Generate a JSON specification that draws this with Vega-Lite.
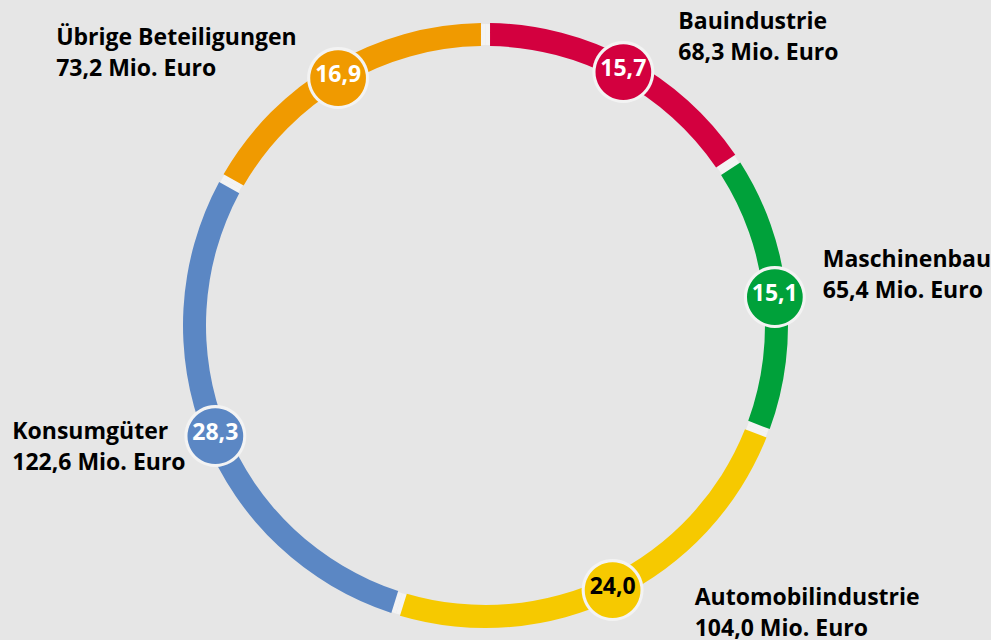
{
  "$schema": "https://vega.github.io/schema/vega-lite/v6.json",
  "width": 971,
  "height": 629,
  "autosize": {"type": "none"},
  "padding": {"left": 0, "top": 11, "right": 20, "bottom": 0},
  "background": "#e6e6e6",
  "config": {
    "view": {"stroke": null},
    "locale": {"number": {"decimal": ",", "thousands": ".", "grouping": [3], "currency": ["", " €"]}}
  },
  "data": {
    "values": [
      {"idx": 1, "name": "Bauindustrie", "share": 15.7, "label": "Bauindustrie\n68,3 Mio. Euro"},
      {"idx": 2, "name": "Maschinenbau", "share": 15.1, "label": "Maschinenbau\n65,4 Mio. Euro"},
      {"idx": 3, "name": "Automobilindustrie", "share": 24.0, "label": "Automobilindustrie\n104,0 Mio. Euro"},
      {"idx": 4, "name": "Konsumgüter", "share": 28.3, "label": "Konsumgüter\n122,6 Mio. Euro"},
      {"idx": 5, "name": "Übrige Beteiligungen", "share": 16.9, "label": "Übrige Beteiligungen\n73,2 Mio. Euro"}
    ]
  },
  "encoding": {
    "theta": {"field": "share", "type": "quantitative", "stack": true},
    "order": {"field": "idx", "type": "quantitative", "sort": "ascending"}
  },
  "layer": [
    {"mark": {"type": "arc", "outerRadius": 301.5, "innerRadius": 280.5, "fill": "#f3f3f3"}},
    {
      "mark": {"type": "arc", "outerRadius": 302.5, "innerRadius": 279.5, "padAngle": 0.022},
      "encoding": {
        "color": {
          "field": "name", "type": "nominal", "legend": null,
          "scale": {
            "domain": ["Bauindustrie", "Maschinenbau", "Automobilindustrie", "Konsumgüter", "Übrige Beteiligungen"],
            "range": ["#d3003f", "#00a13a", "#f6c900", "#5b87c4", "#f09a00"]
          }
        }
      }
    },
    {"mark": {"type": "text", "text": "●", "radius": 291, "font": "DejaVu Sans", "fontSize": 81, "baseline": "middle", "align": "center", "fill": "#f3f3f3"}},
    {
      "mark": {"type": "text", "text": "●", "radius": 291, "font": "DejaVu Sans", "fontSize": 73, "baseline": "middle", "align": "center"},
      "encoding": {
        "color": {
          "field": "name", "type": "nominal", "legend": null,
          "scale": {
            "domain": ["Bauindustrie", "Maschinenbau", "Automobilindustrie", "Konsumgüter", "Übrige Beteiligungen"],
            "range": ["#d3003f", "#00a13a", "#f6c900", "#5b87c4", "#f09a00"]
          }
        }
      }
    },
    {
      "mark": {"type": "text", "radius": 291, "font": "Open Sans", "fontWeight": "bold", "fontSize": 23, "baseline": "middle", "align": "center"},
      "encoding": {
        "text": {"field": "share", "type": "quantitative", "format": ".1f"},
        "color": {"condition": {"test": "datum.name === 'Automobilindustrie'", "value": "#000000"}, "value": "#ffffff"}
      }
    },
    {
      "mark": {"type": "text", "radius": 291, "font": "Open Sans", "fontWeight": "bold", "fontSize": 23, "lineHeight": 31, "lineBreak": "\n", "align": "left", "baseline": "middle", "dx": 55, "dy": -47, "color": "#000000"},
      "encoding": {"text": {"condition": {"test": "datum.name === 'Bauindustrie'", "field": "label"}, "value": ""}}
    },
    {
      "mark": {"type": "text", "radius": 291, "font": "Open Sans", "fontWeight": "bold", "fontSize": 23, "lineHeight": 31, "lineBreak": "\n", "align": "left", "baseline": "middle", "dx": 48, "dy": -34, "color": "#000000"},
      "encoding": {"text": {"condition": {"test": "datum.name === 'Maschinenbau'", "field": "label"}, "value": ""}}
    },
    {
      "mark": {"type": "text", "radius": 291, "font": "Open Sans", "fontWeight": "bold", "fontSize": 23, "lineHeight": 31, "lineBreak": "\n", "align": "left", "baseline": "middle", "dx": 82, "dy": 11, "color": "#000000"},
      "encoding": {"text": {"condition": {"test": "datum.name === 'Automobilindustrie'", "field": "label"}, "value": ""}}
    },
    {
      "mark": {"type": "text", "radius": 291, "font": "Open Sans", "fontWeight": "bold", "fontSize": 23, "lineHeight": 31, "lineBreak": "\n", "align": "left", "baseline": "middle", "dx": -203, "dy": -1, "color": "#000000"},
      "encoding": {"text": {"condition": {"test": "datum.name === 'Konsumgüter'", "field": "label"}, "value": ""}}
    },
    {
      "mark": {"type": "text", "radius": 291, "font": "Open Sans", "fontWeight": "bold", "fontSize": 23, "lineHeight": 31, "lineBreak": "\n", "align": "left", "baseline": "middle", "dx": -282, "dy": -37, "color": "#000000"},
      "encoding": {"text": {"condition": {"test": "datum.name === 'Übrige Beteiligungen'", "field": "label"}, "value": ""}}
    }
  ]
}
